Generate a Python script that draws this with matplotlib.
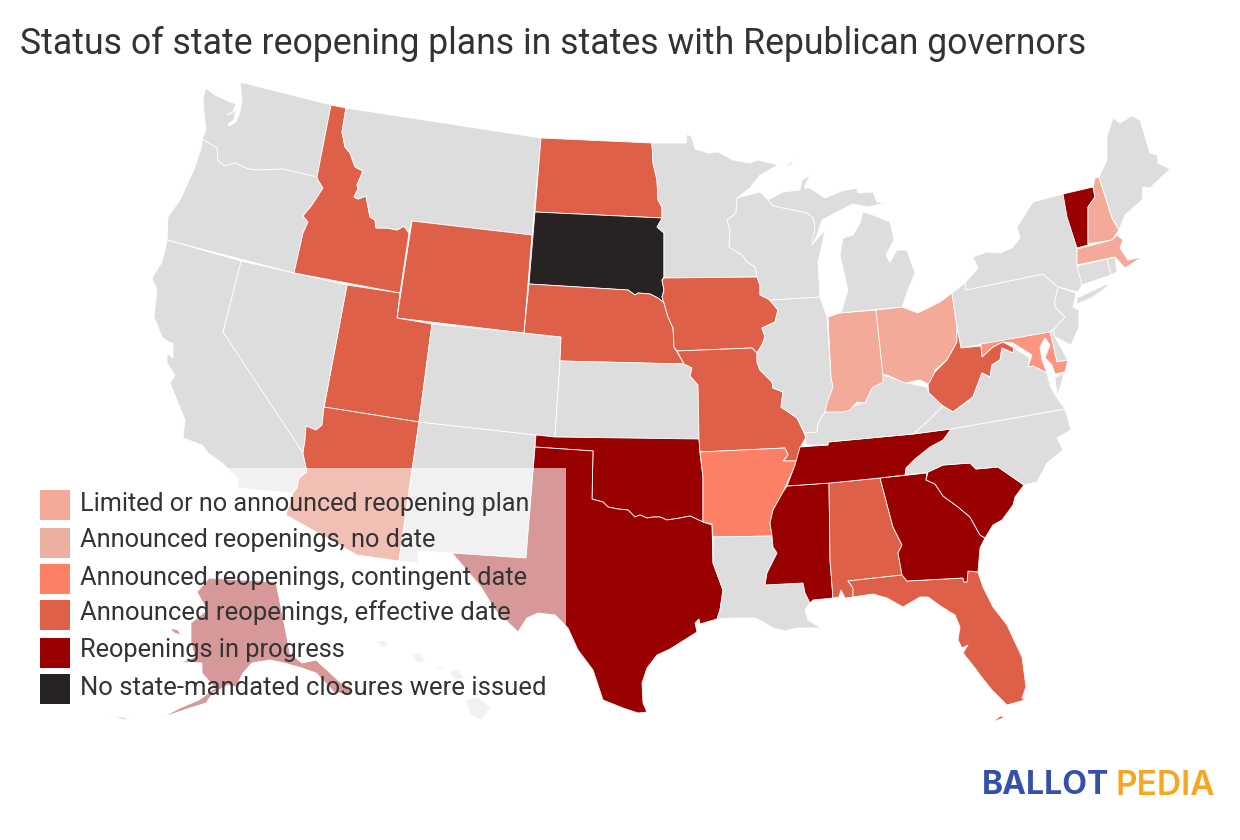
import matplotlib
matplotlib.use("Agg")
import matplotlib.pyplot as plt
from matplotlib.patches import Rectangle

# Legend categories
legend_labels = [
    "Limited or no announced reopening plan",
    "Announced reopenings, no date",
    "Announced reopenings, contingent date",
    "Announced reopenings, effective date",
    "Reopenings in progress",
    "No state-mandated closures were issued",
]
legend_colors = ["#f3aa98", "#ebb0a0", "#fb8065", "#df6049", "#990000", "#282323"]
legend_text_y = [504, 540, 578, 613, 650, 688]
legend_box_y = [490, 528, 564, 600, 638, 674]
legend_font_size = [18.1, 18.25, 18.3, 18.47, 18.27, 18.45]

# State status
limited_states = ["IN", "OH", "NH", "MA"]
contingent_states = ["AR"]
effective_states = ["ID", "ND", "WY", "UT", "AZ", "NE", "IA", "MO", "WV", "AL", "FL"]
progress_states = ["VT", "TX", "OK", "TN", "MS", "GA", "SC", "AK"]
none_states = ["SD"]

outlines = {
    "WA": [[(240,82),(331,105),(317,177),(283,169),(262,170),(248,169),(235,163),(225,166),(218,161),(217,148),(209,143),(202,139),(206,130),(204,112),(203,97),(206,88),(215,95),(228,101),(236,104),(233,112),(227,115),(236,110),(234,120),(228,124),(229,126),(236,122),(240,112),(242,100),(241,90)]],
    "OR": [[(202,139),(209,143),(217,148),(218,161),(225,166),(235,163),(248,169),(262,170),(283,169),(317,177),(318,180),(323,188),(312,205),(303,216),(308,222),(303,233),(294,273),(167,240),(168,217),(180,200),(195,167),(202,145)]],
    "ID": [[(331,105),(346,108),(342,132),(345,147),(350,153),(355,167),(363,171),(357,185),(358,189),(354,197),(358,199),(366,196),(370,217),(375,220),(376,228),(387,228),(397,230),(404,226),(409,233),(400,293),(294,273),(303,233),(308,222),(303,216),(312,205),(323,188),(318,180),(317,177)]],
    "MT": [[(346,108),(541,138),(532,235),(412,221),(409,233),(404,226),(397,230),(387,228),(376,228),(375,220),(370,217),(366,196),(358,199),(354,197),(358,189),(357,185),(363,171),(355,167),(350,153),(345,147),(342,132)]],
    "WY": [[(412,221),(532,235),(524,333),(397,318)]],
    "UT": [[(347,285),(400,293),(397,318),(432,324),(419,422),(324,407)]],
    "NV": [[(241,261),(294,273),(347,285),(324,407),(322,425),(316,430),(306,426),(305,440),(303,453),(223,332)]],
    "CA": [[(167,240),(241,261),(223,332),(303,453),(307,472),(299,478),(297,488),(293,493),(238,488),(238,478),(222,463),(218,460),(208,453),(202,445),(183,438),(185,420),(170,383),(175,375),(167,363),(167,353),(173,358),(173,343),(170,343),(162,337),(154,317),(157,290),(152,278),(162,262),(166,245)]],
    "AZ": [[(324,407),(419,422),(399,561),(357,555),(286,515),(293,493),(297,488),(299,478),(307,472),(303,453),(305,440),(306,426),(316,430),(322,425)]],
    "NM": [[(419,422),(536,435),(535,447),(526,558),(452,553),(418,551),(418,563),(399,561)]],
    "CO": [[(432,324),(524,333),(561,337),(560,361),(555,437),(536,435),(419,422)]],
    "ND": [[(541,138),(652,143),(653,163),(657,180),(658,200),(662,207),(662,218),(535,212)]],
    "SD": [[(535,212),(662,218),(662,220),(657,227),(664,233),(664,277),(662,280),(664,290),(662,297),(664,303),(658,298),(650,294),(638,293),(635,295),(628,290),(529,284)]],
    "NE": [[(529,284),(628,290),(635,295),(638,293),(650,294),(658,298),(664,303),(668,317),(673,328),(674,347),(677,352),(684,364),(560,361),(561,337),(524,333)]],
    "KS": [[(560,361),(684,364),(692,368),(690,376),(698,385),(699,439),(555,437)]],
    "OK": [[(536,435),(555,437),(699,439),(700,453),(703,477),(703,522),(690,516),(680,518),(667,520),(660,517),(653,517),(647,518),(640,515),(635,517),(628,510),(618,509),(608,507),(603,502),(592,499),(593,451),(535,447)]],
    "TX": [[(535,447),(593,451),(592,499),(603,502),(608,507),(618,509),(628,510),(635,517),(640,515),(647,518),(653,517),(660,517),(667,520),(680,518),(690,516),(703,522),(712,525),(713,563),(723,590),(720,610),(717,619),(700,624),(699,619),(695,623),(697,632),(670,649),(657,655),(647,668),(642,683),(643,703),(647,712),(638,713),(623,708),(603,700),(597,682),(593,670),(578,650),(568,628),(555,615),(538,613),(527,618),(518,632),(495,610),(481,587),(452,553),(526,558)]],
    "MN": [[(652,143),(686,143),(687,134),(692,137),(695,149),(708,153),(718,152),(733,160),(750,163),(758,160),(778,165),(760,175),(750,188),(737,198),(736,213),(727,220),(730,230),(729,247),(742,255),(747,262),(755,267),(757,277),(664,278),(664,233),(657,227),(662,218),(662,207),(658,200),(657,180),(653,163)]],
    "IA": [[(664,278),(757,277),(760,285),(760,295),(768,298),(778,310),(775,322),(762,328),(765,337),(762,345),(757,353),(752,348),(677,351),(674,347),(673,328),(668,317),(664,303),(662,297),(664,290),(662,280)]],
    "MO": [[(677,351),(752,348),(757,353),(757,362),(760,370),(772,382),(773,388),(783,392),(781,407),(797,418),(806,437),(800,448),(797,461),(783,461),(788,455),(785,448),(700,452),(699,439),(698,385),(690,376),(692,368),(684,364)]],
    "AR": [[(700,452),(785,448),(788,455),(783,461),(797,461),(793,470),(783,492),(773,510),(770,523),(772,536),(713,537),(712,524),(703,522),(703,477)]],
    "LA": [[(713,537),(772,536),(773,547),(777,553),(767,573),(765,585),(803,583),(805,593),(810,603),(805,610),(808,620),(821,628),(797,628),(785,631),(773,628),(763,622),(755,618),(733,618),(717,619),(720,610),(723,590),(713,563)]],
    "MS": [[(787,486),(829,483),(830,560),(833,598),(813,600),(810,603),(805,593),(803,583),(765,585),(767,573),(777,553),(773,547),(772,536),(770,523),(773,510),(783,492)]],
    "AL": [[(829,483),(880,478),(893,527),(902,545),(898,553),(902,575),(848,581),(853,588),(853,597),(845,598),(841,590),(839,597),(833,598),(830,560)]],
    "FL": [[(848,581),(902,575),(907,581),(963,578),(964,582),(967,582),(968,571),(978,572),(983,587),(993,607),(1007,625),(1022,657),(1026,687),(1022,698),(1025,700),(1007,705),(992,690),(980,675),(975,668),(963,653),(968,645),(962,648),(958,640),(960,627),(955,615),(942,607),(928,597),(920,597),(903,607),(887,598),(873,594),(853,597),(853,588)],
           [(993,722),(1000,716),(1005,717),(998,720)]],
    "GA": [[(880,478),(927,473),(926,480),(935,484),(943,496),(958,507),(970,517),(980,535),(985,538),(980,548),(978,572),(968,571),(967,582),(964,582),(963,578),(907,581),(902,575),(898,553),(902,545),(893,527)]],
    "SC": [[(928,472),(943,465),(970,463),(976,469),(998,467),(1024,485),(1015,497),(1013,505),(1002,520),(993,525),(985,538),(980,535),(970,517),(958,507),(943,496),(935,484),(926,480)]],
    "NC": [[(951,429),(1065,409),(1071,430),(1057,438),(1063,450),(1047,463),(1037,482),(1024,485),(998,467),(976,469),(970,463),(943,465),(928,472),(905,475),(906,468),(915,459),(930,447),(943,440)]],
    "TN": [[(800,447),(828,445),(828,442),(913,434),(951,429),(943,440),(930,447),(915,459),(906,468),(905,475),(880,478),(830,483),(787,486),(795,465)]],
    "KY": [[(806,445),(805,433),(817,432),(818,423),(825,412),(843,409),(852,406),(863,403),(872,388),(883,375),(907,383),(927,387),(929,393),(943,406),(927,422),(913,434),(828,442),(828,445)]],
    "IL": [[(770,300),(820,297),(827,317),(831,377),(833,387),(825,410),(825,412),(818,423),(817,432),(805,433),(797,418),(781,407),(783,392),(773,388),(772,382),(760,370),(757,362),(757,353),(762,345),(765,337),(762,328),(775,322),(778,310),(768,298)]],
    "IN": [[(828,317),(840,313),(876,310),(883,375),(883,382),(872,388),(865,403),(857,402),(850,410),(843,412),(825,412),(827,403),(833,387),(831,377)]],
    "OH": [[(876,310),(902,307),(918,313),(940,302),(952,293),(957,327),(957,342),(947,360),(935,370),(932,386),(920,380),(905,383),(887,375),(883,375)]],
    "MI": [[(840,313),(902,307),(908,290),(915,273),(907,250),(897,250),(890,262),(886,255),(894,240),(890,222),(873,215),(863,212),(860,223),(853,235),(843,238),(840,255),(848,290),(842,310)],
           [(768,200),(783,192),(800,190),(802,180),(810,175),(804,188),(810,188),(825,198),(842,191),(857,188),(858,193),(873,192),(877,202),(886,203),(867,207),(853,204),(837,212),(822,220),(817,235),(813,245),(812,237),(815,227),(813,218),(807,213),(773,206)],
           [(785,167),(795,159),(791,165)]],
    "WI": [[(737,198),(760,192),(768,200),(773,206),(807,213),(813,218),(815,227),(812,245),(825,230),(818,263),(820,297),(770,300),(760,295),(760,285),(757,277),(755,267),(747,262),(742,255),(729,247),(730,230),(727,220),(736,213)]],
    "PA": [[(952,293),(965,283),(966,290),(1043,274),(1052,282),(1058,287),(1055,300),(1055,307),(1065,317),(1057,327),(1050,332),(961,348),(957,327)]],
    "NY": [[(966,290),(965,283),(978,268),(973,257),(987,252),(1000,253),(1012,248),(1020,238),(1017,227),(1033,202),(1063,194),(1067,217),(1077,248),(1077,265),(1082,285),(1078,292),(1058,287),(1052,282),(1043,274)],
           [(1077,298),(1107,284),(1108,286),(1093,297),(1077,304)]],
    "VT": [[(1063,194),(1093,187),(1095,197),(1088,207),(1088,245),(1077,248),(1067,217)]],
    "NH": [[(1095,178),(1099,177),(1112,218),(1119,230),(1112,240),(1088,244),(1088,207),(1095,197),(1093,187)]],
    "ME": [[(1099,177),(1107,160),(1107,137),(1113,118),(1120,123),(1132,116),(1140,120),(1150,153),(1157,155),(1158,163),(1170,169),(1150,188),(1143,187),(1142,200),(1125,215),(1119,230),(1112,218)]],
    "MA": [[(1077,249),(1112,240),(1117,235),(1123,240),(1120,248),(1128,260),(1142,257),(1130,265),(1125,268),(1115,257),(1077,265)]],
    "CT": [[(1077,266),(1107,259),(1111,275),(1082,285)]],
    "RI": [[(1107,259),(1115,257),(1117,272),(1111,275)]],
    "NJ": [[(1058,287),(1076,293),(1073,307),(1079,310),(1079,327),(1071,345),(1055,337),(1053,330),(1065,317),(1055,307),(1055,300)]],
    "DE": [[(1050,332),(1053,330),(1055,337),(1068,360),(1057,362)]],
    "MD": [[(981,344),(1050,332),(1057,362),(1068,360),(1065,372),(1055,374),(1052,365),(1045,358),(1050,345),(1045,338),(1040,347),(1042,360),(1047,373),(1033,366),(1028,367),(1032,355),(1013,343),(1003,342),(993,347),(982,357)]],
    "WV": [[(957,327),(961,348),(981,346),(982,357),(993,347),(1003,342),(1014,348),(1013,353),(1002,348),(1000,360),(992,365),(990,377),(982,373),(973,397),(965,403),(953,412),(943,406),(929,393),(928,385),(935,372),(947,360),(957,342)]],
    "VA": [[(943,406),(953,412),(965,403),(973,397),(982,373),(990,377),(992,365),(1000,360),(1002,348),(1013,353),(1014,348),(1030,358),(1028,367),(1033,366),(1047,373),(1050,385),(1055,395),(1065,409),(951,429),(913,434),(927,422)],
           [(1064,372),(1055,378),(1057,395),(1061,385)]],
    "AK": [[(209,578),(276,582),(290,653),(302,663),(316,660),(341,683),(352,688),(350,695),(334,692),(316,673),(302,668),(284,663),(270,660),(252,663),(243,673),(236,687),(228,685),(213,693),(206,703),(184,710),(161,718),(180,708),(199,700),(215,688),(202,673),(202,663),(181,662),(195,657),(191,643),(191,623),(207,610),(197,592)],
           [(170,628),(178,630),(181,635),(174,633)],
           [(111,715),(120,717),(134,720),(122,719)]],
    "HI": [[(377,642),(384,640),(388,644),(382,648)],
           [(413,655),(420,653),(425,661),(417,663)],
           [(434,666),(445,667),(441,670)],
           [(449,671),(458,670),(465,678),(455,680)],
           [(466,700),(478,697),(491,708),(481,720),(470,714)]],
}

# Fill colours
grey = "#dddddd"
maryland_color = "#fb957f"

state_colors = {}
for s in outlines:
    state_colors[s] = grey
for s in limited_states:
    state_colors[s] = legend_colors[0]
for s in contingent_states:
    state_colors[s] = legend_colors[2]
for s in effective_states:
    state_colors[s] = legend_colors[3]
for s in progress_states:
    state_colors[s] = legend_colors[4]
for s in none_states:
    state_colors[s] = legend_colors[5]
state_colors["MD"] = maryland_color

plt.rcParams["font.family"] = ["Roboto", "DejaVu Sans"]

fig = plt.figure(figsize=(12.4, 8.4), dpi=100)
ax = fig.add_axes([0, 0, 1, 1])
ax.set_xlim(0, 1240)
ax.set_ylim(840, 0)
ax.axis("off")

for state, rings in outlines.items():
    for ring in rings:
        xs = [p[0] for p in ring]
        ys = [p[1] for p in ring]
        ax.fill(xs, ys, facecolor=state_colors[state], edgecolor="white",
                linewidth=0.6, joinstyle="round", zorder=1)

# White see-through panel behind the legend
ax.add_patch(Rectangle((25, 468), 541, 260, facecolor="white", alpha=0.6,
                       edgecolor="none", zorder=2))

for label, color, ty, by, size in zip(legend_labels, legend_colors, legend_text_y,
                                      legend_box_y, legend_font_size):
    ax.add_patch(Rectangle((40, by), 30, 30, facecolor=color, edgecolor="none", zorder=3))
    ax.text(80, ty, label, fontsize=size, color="#333333", va="center", ha="left", zorder=4)

ax.text(20, 44, "Status of state reopening plans in states with Republican governors",
        fontsize=25.7, color="#333333", va="center", ha="left", zorder=4)

# Logo wordmark
ax.text(982, 786, "BALLOT", fontsize=23, fontweight="bold", family="Inter",
        color="#3350ab", va="center", ha="left", zorder=4)
ax.text(1116, 786, "PEDIA", fontsize=24, fontweight="semibold", family="Inter",
        color="#f5a623", va="center", ha="left", zorder=4)

fig.savefig("out.png", dpi=100, facecolor="white")
